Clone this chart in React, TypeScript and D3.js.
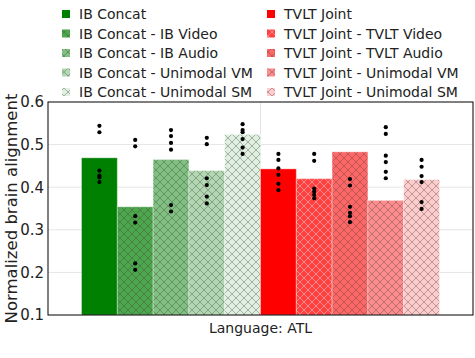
import { useEffect, useRef } from 'react';
import * as d3 from 'd3';

const category = 'Language: ATL';
const seriesNames = [
  'IB Concat',
  'IB Concat - IB Video',
  'IB Concat - IB Audio',
  'IB Concat - Unimodal VM',
  'IB Concat - Unimodal SM',
  'TVLT Joint',
  'TVLT Joint - TVLT Video',
  'TVLT Joint - TVLT Audio',
  'TVLT Joint - Unimodal VM',
  'TVLT Joint - Unimodal SM',
];
const barValues = [0.469, 0.354, 0.465, 0.439, 0.524, 0.443, 0.42, 0.483, 0.369, 0.418];
const dotValues = [
  [0.544, 0.529, 0.439, 0.427, 0.423, 0.412],
  [0.511, 0.496, 0.332, 0.317, 0.221, 0.206],
  [0.534, 0.52, 0.504, 0.488, 0.358, 0.343],
  [0.516, 0.501, 0.421, 0.405, 0.378, 0.362],
  [0.548, 0.534, 0.529, 0.513, 0.493, 0.478],
  [0.478, 0.464, 0.444, 0.429, 0.408, 0.393],
  [0.478, 0.462, 0.397, 0.39, 0.382, 0.374],
  [0.419, 0.404, 0.354, 0.34, 0.332, 0.318],
  [0.541, 0.525, 0.474, 0.459, 0.436, 0.421],
  [0.464, 0.448, 0.426, 0.412, 0.365, 0.349],
];
const colors = [
  '#008000', '#4ca64c', '#80c080', '#b2d8b2', '#e0f0e0',
  '#ff0000', '#ff4040', '#ff6666', '#ff8c8c', '#ffcccc',
];
// solid or crosshatch fill, and the hatch line colour
const hatched = [false, true, true, true, true, false, true, true, true, true];
const hatchColors = ['', '#444', '#444', '#444', '#444', '', '#fff', '#444', '#444', '#444'];
const yTicks = [0.1, 0.2, 0.3, 0.4, 0.5, 0.6];

const App = () => {
  const ref = useRef<SVGSVGElement>(null);

  useEffect(() => {
    const svg = d3.select(ref.current);
    svg.selectAll('*').remove();
    const width = 475;
    const height = 358;
    const margin = { top: 102, right: 2, bottom: 43, left: 48 };
    const innerW = width - margin.left - margin.right;
    const innerH = height - margin.top - margin.bottom;
    const font = 'DejaVu Sans, Verdana, sans-serif';

    const defs = svg.append('defs');
    seriesNames.forEach((s, i) => {
      if (!hatched[i]) return;
      const p = defs.append('pattern')
        .attr('id', `hatch${i}`)
        .attr('patternUnits', 'userSpaceOnUse')
        .attr('width', 8).attr('height', 8);
      p.append('rect').attr('width', 8).attr('height', 8).attr('fill', colors[i]);
      p.append('path')
        .attr('d', 'M0,0L8,8M8,0L0,8M-1,7L1,9M7,-1L9,1M-1,1L1,-1M7,9L9,7')
        .attr('stroke', hatchColors[i])
        .attr('stroke-width', 0.7)
        .attr('stroke-opacity', 0.55);
    });
    const fillOf = (i: number) => (hatched[i] ? `url(#hatch${i})` : colors[i]);

    const g = svg.append('g').attr('transform', `translate(${margin.left},${margin.top})`);

    const yScale = d3.scaleLinear().domain([0.1, 0.6]).range([innerH, 0]);
    const xScale = d3.scaleBand().domain([category]).range([0, innerW]).paddingOuter(0.0936).paddingInner(0);
    const xInner = d3.scaleBand().domain(seriesNames).range([0, xScale.bandwidth()]);

    // grid
    g.append('g').selectAll('line').data(yTicks.slice(1, -1)).enter().append('line')
      .attr('x1', 0).attr('x2', innerW)
      .attr('y1', d => yScale(d)).attr('y2', d => yScale(d))
      .attr('stroke', '#e5e5e5').attr('stroke-width', 1);
    g.append('line')
      .attr('x1', xScale(category)! + xScale.bandwidth() / 2)
      .attr('x2', xScale(category)! + xScale.bandwidth() / 2)
      .attr('y1', 0).attr('y2', innerH)
      .attr('stroke', '#e5e5e5').attr('stroke-width', 1);

    // bars
    const x0 = xScale(category)!;
    g.append('g').selectAll('rect').data(barValues).enter().append('rect')
      .attr('x', (d, i) => x0 + xInner(seriesNames[i])!)
      .attr('y', d => yScale(d))
      .attr('width', xInner.bandwidth())
      .attr('height', d => innerH - yScale(d))
      .attr('fill', (d, i) => fillOf(i))
      .attr('stroke', '#fff').attr('stroke-opacity', 0.35).attr('stroke-width', 1);

    // dots
    dotValues.forEach((vals, i) => {
      const cx = x0 + xInner(seriesNames[i])! + xInner.bandwidth() / 2;
      g.append('g').selectAll('circle').data(vals).enter().append('circle')
        .attr('cx', cx).attr('cy', d => yScale(d)).attr('r', 2.1).attr('fill', '#000');
    });

    // frame
    g.append('rect').attr('width', innerW).attr('height', innerH)
      .attr('fill', 'none').attr('stroke', '#000').attr('stroke-width', 1);

    // y axis
    const yAxisG = g.append('g').call(d3.axisLeft(yScale).tickValues(yTicks).tickSize(0).tickPadding(4).tickFormat(d3.format('.1f')));
    yAxisG.select('.domain').remove();
    yAxisG.selectAll('text').attr('font-family', font).attr('font-size', 15).attr('fill', '#222');

    // x axis
    const xAxisG = g.append('g').attr('transform', `translate(0,${innerH})`)
      .call(d3.axisBottom(xScale).tickSize(0).tickPadding(8));
    xAxisG.select('.domain').remove();
    xAxisG.selectAll('text').attr('font-family', font).attr('font-size', 14).attr('fill', '#222');

    // y title
    svg.append('text')
      .attr('transform', `translate(17,${margin.top + innerH / 2}) rotate(-90)`)
      .attr('text-anchor', 'middle')
      .attr('font-family', font).attr('font-size', 16.5).attr('fill', '#222')
      .text('Normalized brain alignment');

    // legend
    seriesNames.forEach((s, i) => {
      const col = Math.floor(i / 5);
      const row = i % 5;
      const lx = col === 0 ? 66 : 271;
      const ly = 14 + row * 19.5;
      svg.append('rect')
        .attr('x', lx - 4).attr('y', ly - 4).attr('width', 8).attr('height', 8)
        .attr('fill', fillOf(i));
      svg.append('text')
        .attr('x', lx + 13).attr('y', ly).attr('dy', '0.36em')
        .attr('font-family', font).attr('font-size', 14).attr('fill', '#222')
        .text(s);
    });
  }, []);

  return (
    <svg ref={ref} width={475} height={358}
      style={{ position: 'absolute', left: 0, top: 0, background: '#fff' }} />
  );
};

export default App;
